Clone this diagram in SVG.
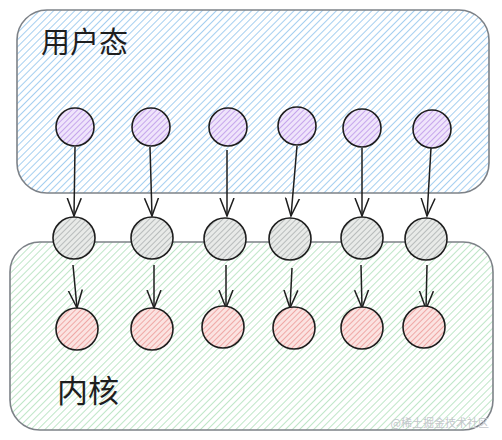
<svg xmlns="http://www.w3.org/2000/svg" width="502" height="440" viewBox="0 0 502 440">
<style>
.box{stroke:#7d8288;stroke-width:1.6;}
.node{stroke:#1e1e1e;stroke-width:1.6;}
.edge{stroke:#1e1e1e;stroke-width:1.5;fill:none;}
.lbl{font-family:"Noto Sans CJK SC","Liberation Sans",sans-serif;fill:#1e1e1e;}
</style>
<defs>
<pattern id="hb" patternUnits="userSpaceOnUse" width="5" height="5" patternTransform="rotate(45)"><rect width="5" height="5" fill="#ffffff"/><line x1="0" y1="0" x2="0" y2="5" stroke="#a5cff0" stroke-width="2"/></pattern>
<pattern id="hg" patternUnits="userSpaceOnUse" width="5" height="5" patternTransform="rotate(45)"><rect width="5" height="5" fill="#ffffff"/><line x1="0" y1="0" x2="0" y2="5" stroke="#bfe6c8" stroke-width="2"/></pattern>
<pattern id="hp" patternUnits="userSpaceOnUse" width="4" height="4" patternTransform="rotate(45)"><rect width="4" height="4" fill="#efe4fb"/><line x1="0" y1="0" x2="0" y2="4" stroke="#c6a6ec" stroke-width="2"/></pattern>
<pattern id="hy" patternUnits="userSpaceOnUse" width="4" height="4" patternTransform="rotate(45)"><rect width="4" height="4" fill="#e8eae8"/><line x1="0" y1="0" x2="0" y2="4" stroke="#b8bcbc" stroke-width="2"/></pattern>
<pattern id="hr" patternUnits="userSpaceOnUse" width="4" height="4" patternTransform="rotate(45)"><rect width="4" height="4" fill="#fbe3e1"/><line x1="0" y1="0" x2="0" y2="4" stroke="#efa8a6" stroke-width="2"/></pattern>
<marker id="arr" viewBox="0 0 20 20" refX="18" refY="10" markerWidth="20" markerHeight="20" markerUnits="userSpaceOnUse" orient="auto"><path d="M0,3 L18,10 L0,17" fill="none" stroke="#1e1e1e" stroke-width="1.5"/></marker>
</defs>
<g id="userspace">
<rect class="box" x="17" y="10" width="472" height="183" rx="30" fill="url(#hb)"/>
<text class="lbl" x="41" y="53" font-size="29">用户态</text>
</g>
<g id="kernel">
<rect class="box" x="10" y="242" width="483" height="188" rx="30" fill="url(#hg)"/>
<text class="lbl" x="57" y="402" font-size="31">内核</text>
</g>
<g id="connectors">
<line class="edge" x1="75" y1="147" x2="74" y2="216" marker-end="url(#arr)"/>
<line class="edge" x1="150" y1="147" x2="152" y2="216" marker-end="url(#arr)"/>
<line class="edge" x1="227" y1="150" x2="227" y2="216" marker-end="url(#arr)"/>
<line class="edge" x1="297" y1="146" x2="291" y2="216" marker-end="url(#arr)"/>
<line class="edge" x1="362" y1="148" x2="362" y2="216" marker-end="url(#arr)"/>
<line class="edge" x1="431" y1="148" x2="427" y2="216" marker-end="url(#arr)"/>
<line class="edge" x1="73" y1="265" x2="77" y2="308" marker-end="url(#arr)"/>
<line class="edge" x1="154" y1="265" x2="154" y2="308" marker-end="url(#arr)"/>
<line class="edge" x1="226" y1="265" x2="226" y2="308" marker-end="url(#arr)"/>
<line class="edge" x1="292" y1="268" x2="290" y2="308" marker-end="url(#arr)"/>
<line class="edge" x1="361" y1="265" x2="362" y2="308" marker-end="url(#arr)"/>
<line class="edge" x1="427" y1="265" x2="426" y2="309" marker-end="url(#arr)"/>
</g>
<g id="u1"><circle class="node" cx="75" cy="127" r="19" fill="url(#hp)"/></g>
<g id="u2"><circle class="node" cx="151" cy="127" r="19" fill="url(#hp)"/></g>
<g id="u3"><circle class="node" cx="228" cy="127" r="19" fill="url(#hp)"/></g>
<g id="u4"><circle class="node" cx="297" cy="126" r="19" fill="url(#hp)"/></g>
<g id="u5"><circle class="node" cx="362" cy="128" r="19" fill="url(#hp)"/></g>
<g id="u6"><circle class="node" cx="432" cy="129" r="19" fill="url(#hp)"/></g>
<g id="g1"><circle class="node" cx="74" cy="238" r="21" fill="url(#hy)"/></g>
<g id="g2"><circle class="node" cx="152" cy="238" r="21" fill="url(#hy)"/></g>
<g id="g3"><circle class="node" cx="225" cy="239" r="21" fill="url(#hy)"/></g>
<g id="g4"><circle class="node" cx="290" cy="239" r="21" fill="url(#hy)"/></g>
<g id="g5"><circle class="node" cx="362" cy="238" r="21" fill="url(#hy)"/></g>
<g id="g6"><circle class="node" cx="426" cy="239" r="21" fill="url(#hy)"/></g>
<g id="k1"><circle class="node" cx="77" cy="329" r="21" fill="url(#hr)"/></g>
<g id="k2"><circle class="node" cx="152" cy="329" r="21" fill="url(#hr)"/></g>
<g id="k3"><circle class="node" cx="223" cy="327" r="21" fill="url(#hr)"/></g>
<g id="k4"><circle class="node" cx="294" cy="328" r="21" fill="url(#hr)"/></g>
<g id="k5"><circle class="node" cx="362" cy="328" r="21" fill="url(#hr)"/></g>
<g id="k6"><circle class="node" cx="424" cy="327" r="21" fill="url(#hr)"/></g>
<text x="489" y="427" text-anchor="end" font-family="Noto Sans CJK SC,sans-serif" font-size="11" fill="#c4c7cc">@稀土掘金技术社区</text>
</svg>
